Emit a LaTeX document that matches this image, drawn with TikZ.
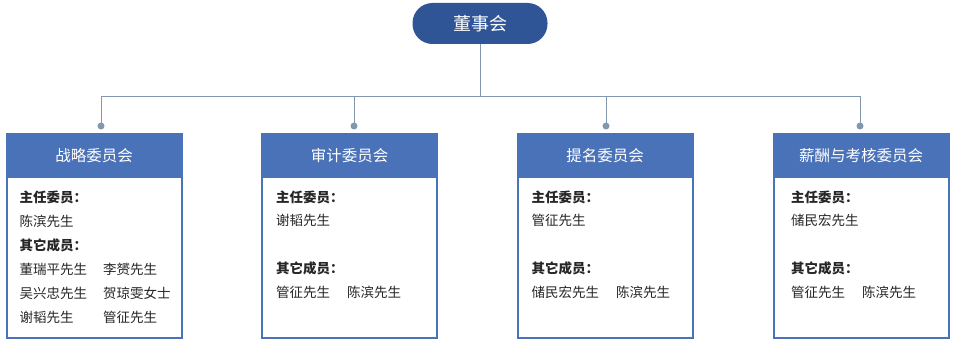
\documentclass[tikz,border=0pt]{standalone}
\usepackage{fontspec}
\setmainfont{Noto Sans CJK SC}
\definecolor{pillc}{HTML}{2F5597}
\definecolor{headc}{HTML}{4A72B8}
\definecolor{linec}{HTML}{8497B0}
\definecolor{textc}{HTML}{262626}
\begin{document}
\begin{tikzpicture}[x=1pt,y=-1pt,
  pill/.style={draw=none, fill=pillc, rounded corners=20pt, minimum width=135pt, minimum height=41pt, text=white, font=\fontsize{18}{20}\selectfont, inner sep=0pt},
  body/.style={draw=headc, line width=2pt, fill=white, minimum width=175pt, minimum height=204pt, inner sep=0pt},
  head/.style={draw=headc, line width=2pt, fill=headc, minimum width=175pt, minimum height=43pt, text=white, font=\fontsize{15.5}{17}\selectfont, inner sep=0pt},
  dot/.style={circle, fill=linec, minimum size=7pt, inner sep=0pt},
  conn/.style={draw=linec, line width=1pt},
  lab/.style={anchor=west, inner sep=0pt, text=textc, font=\fontsize{13.5}{15}\selectfont\bfseries},
  txt/.style={anchor=west, inner sep=0pt, text=textc, font=\fontsize{13.5}{15}\selectfont}]
\useasboundingbox (0,0) rectangle (957,345);
% top
\node[pill] (top) at (480,23.5) {董事会};
\coordinate (j) at (480,96);
% dots
\node[dot] (d1) at (101,126) {};
\node[dot] (d2) at (354,126) {};
\node[dot] (d3) at (606,126) {};
\node[dot] (d4) at (860,126) {};
\draw[conn] (top.south) -- (j);
\draw[conn] (d1.center) -- (d1.center |- j) -- (d4.center |- j) -- (d4.center);
\draw[conn] (d2.center) -- (d2.center |- j);
\draw[conn] (d3.center) -- (d3.center |- j);
% boxes
\node[body] (b1) at (94,236) {};
\node[head] (h1) at (94,155.5) {战略委员会};
\node[body] (b2) at (349.5,236) {};
\node[head] (h2) at (349.5,155.5) {审计委员会};
\node[body] (b3) at (605,236) {};
\node[head] (h3) at (605,155.5) {提名委员会};
\node[body] (b4) at (861,236) {};
\node[head] (h4) at (861,155.5) {薪酬与考核委员会};
% box 1 text
\node[lab] (t1a) at (19.5,197) {主任委员：};
\node[txt] (t1b) at (19.5,221) {陈滨先生};
\node[lab] (t1c) at (19.5,245) {其它成员：};
\node[txt] (t1d) at (19.5,269.5) {董瑞平先生};
\node[txt] (t1e) at (103,269.5) {李赟先生};
\node[txt] (t1f) at (19.5,293.5) {吴兴忠先生};
\node[txt] (t1g) at (103,293.5) {贺琼雯女士};
\node[txt] (t1h) at (19.5,317.5) {谢韬先生};
\node[txt] (t1i) at (103,317.5) {管征先生};
% box 2 text
\node[lab] (t2a) at (276,197) {主任委员：};
\node[txt] (t2b) at (276,220.5) {谢韬先生};
\node[lab] (t2c) at (276,268.5) {其它成员：};
\node[txt] (t2d) at (276,292.5) {管征先生};
\node[txt] (t2e) at (347,292.5) {陈滨先生};
% box 3 text
\node[lab] (t3a) at (531.5,197) {主任委员：};
\node[txt] (t3b) at (531.5,220.5) {管征先生};
\node[lab] (t3c) at (531.5,268.5) {其它成员：};
\node[txt] (t3d) at (531.5,292.5) {储民宏先生};
\node[txt] (t3e) at (616,292.5) {陈滨先生};
% box 4 text
\node[lab] (t4a) at (791,197) {主任委员：};
\node[txt] (t4b) at (791,220.5) {储民宏先生};
\node[lab] (t4c) at (791,268.5) {其它成员：};
\node[txt] (t4d) at (791,292.5) {管征先生};
\node[txt] (t4e) at (862,292.5) {陈滨先生};
\end{tikzpicture}
\end{document}
